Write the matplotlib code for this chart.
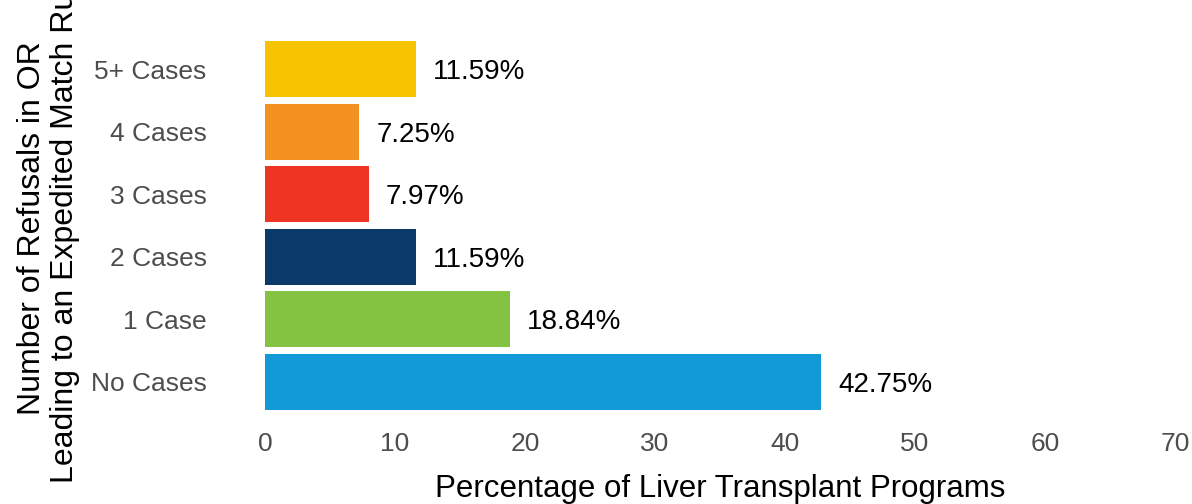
import matplotlib
matplotlib.use("Agg")
import matplotlib.pyplot as plt

categories = ["No Cases", "1 Case", "2 Cases", "3 Cases", "4 Cases", "5+ Cases"]
values = [42.75, 18.84, 11.59, 7.97, 7.25, 11.59]
colors = ["#119AD7", "#84C341", "#0B3A6A", "#EE3524", "#F29020", "#F7C200"]
x_ticks = [0, 10, 20, 30, 40, 50, 60, 70]
value_labels = [f"{v:.2f}%" for v in values]

plt.rcParams['font.family'] = ['Liberation Sans', 'DejaVu Sans']

fig = plt.figure(figsize=(11.92, 5.04), dpi=100)
W, H = 1192, 504
left, right = 265, 1175
top, bottom = 38, 413
ax = fig.add_axes([left / W, 1 - bottom / H, (right - left) / W, (bottom - top) / H])

ypos = list(range(len(categories)))
ax.barh(ypos, values, height=0.9, color=colors)
for y, v, lab in zip(ypos, values, value_labels):
    ax.annotate(lab, xy=(v, y), xytext=(12.5, -7.2), textcoords="offset points",
                ha="left", va="baseline", fontsize=20, color="black")

ax.set_xlim(0, 70)
ax.set_ylim(-0.5, 5.5)
ax.set_xticks(x_ticks)
ax.set_xticklabels([str(t) for t in x_ticks])
ax.set_yticks(ypos)
ax.set_yticklabels(categories)
ax.tick_params(axis="both", length=0, labelsize=19, labelcolor="#4D4D4D")
ax.tick_params(axis="x", pad=14)
ax.tick_params(axis="y", pad=42)
for s in ax.spines.values():
    s.set_visible(False)

ax.set_xlabel("Percentage of Liver Transplant Programs", fontsize=22.5, color="black", labelpad=13)
ax.set_ylabel("Number of Refusals in OR\nLeading to an Expedited Match Run", fontsize=23,
              color="black", linespacing=1.12)
ax.yaxis.set_label_coords(-(265 - 80) / 910, 1 - (228 - 38) / 375)

fig.savefig("out.png", dpi=100)
